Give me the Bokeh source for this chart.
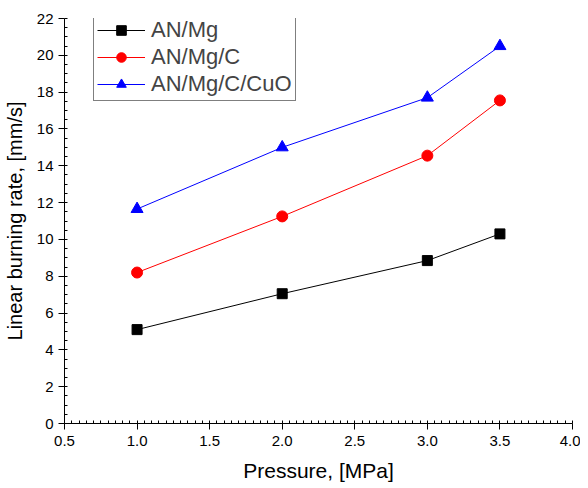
from bokeh.plotting import figure
from bokeh.models import Range1d, Legend, LegendItem, FixedTicker
from bokeh.embed import file_html
from bokeh.resources import INLINE

pressure = [1.0, 2.0, 3.0, 3.5]
an_mg = [5.1, 7.05, 8.85, 10.3]
an_mg_c = [8.2, 11.25, 14.55, 17.55]
an_mg_c_cuo = [11.65, 15.0, 17.7, 20.5]
x_ticks = [0.5, 1.0, 1.5, 2.0, 2.5, 3.0, 3.5, 4.0]
y_ticks = [0, 2, 4, 6, 8, 10, 12, 14, 16, 18, 20, 22]

FONT = "Liberation Sans"

p = figure(width=580, height=484, output_backend="svg", toolbar_location=None,
           x_range=Range1d(0.5, 4.0), y_range=Range1d(0, 22),
           min_border_left=64, min_border_right=8, min_border_top=18, min_border_bottom=57)
p.outline_line_color = None
p.grid.grid_line_color = None
p.background_fill_color = "white"

l1 = p.line(pressure, an_mg, line_color="black", line_width=1)
m1 = p.scatter(pressure, an_mg, marker="square", size=10, fill_color="black", line_color="black")
l2 = p.line(pressure, an_mg_c, line_color="red", line_width=1)
m2 = p.scatter(pressure, an_mg_c, marker="circle", size=11, fill_color="red", line_color="red")
l3 = p.line(pressure, an_mg_c_cuo, line_color="blue", line_width=1)
m3 = p.scatter(pressure, an_mg_c_cuo, marker="triangle", size=12, fill_color="blue", line_color="blue")

legend = Legend(items=[
    LegendItem(label="AN/Mg", renderers=[l1, m1]),
    LegendItem(label="AN/Mg/C", renderers=[l2, m2]),
    LegendItem(label="AN/Mg/C/CuO", renderers=[l3, m3]),
], location=(29, 322))
legend.border_line_color = "black"
legend.border_line_width = 1
legend.background_fill_color = "white"
legend.background_fill_alpha = 1
legend.label_text_font = FONT
legend.label_text_font_size = "22px"
legend.glyph_width = 48
legend.glyph_height = 24
legend.spacing = 1
legend.padding = 3
legend.margin = 0
legend.label_standoff = 6
legend.label_height = 24
p.add_layout(legend)

for ax in (p.xaxis[0], p.yaxis[0]):
    ax.axis_line_color = "black"
    ax.axis_line_width = 1
    ax.major_tick_out = 6
    ax.major_tick_in = 0
    ax.minor_tick_out = 0
    ax.minor_tick_in = 3
    ax.major_tick_line_color = "black"
    ax.minor_tick_line_color = "black"
    ax.major_label_text_font = FONT
    ax.major_label_text_font_size = "15px"
    ax.major_label_text_color = "black"
    ax.axis_label_text_font = FONT
    ax.axis_label_text_font_size = "20px"
    ax.axis_label_text_font_style = "normal"
    ax.axis_label_text_color = "black"

p.xaxis[0].ticker = FixedTicker(ticks=x_ticks, minor_ticks=[0.5 + 0.05 * i for i in range(71)])
p.yaxis[0].ticker = FixedTicker(ticks=y_ticks, minor_ticks=[0.5 * i for i in range(45)])
p.xaxis[0].major_label_overrides = {t: f"{t:.1f}" for t in x_ticks}
p.xaxis.axis_label = "Pressure, [MPa]"
p.yaxis.axis_label = "Linear burning rate, [mm/s]"
p.xaxis[0].axis_label_text_font_size = "21px"
p.xaxis.major_label_standoff = 6
p.yaxis.major_label_standoff = 5
p.xaxis.axis_label_standoff = 10
p.yaxis.axis_label_standoff = 8

open("out.html", "w").write(file_html(p, INLINE))
